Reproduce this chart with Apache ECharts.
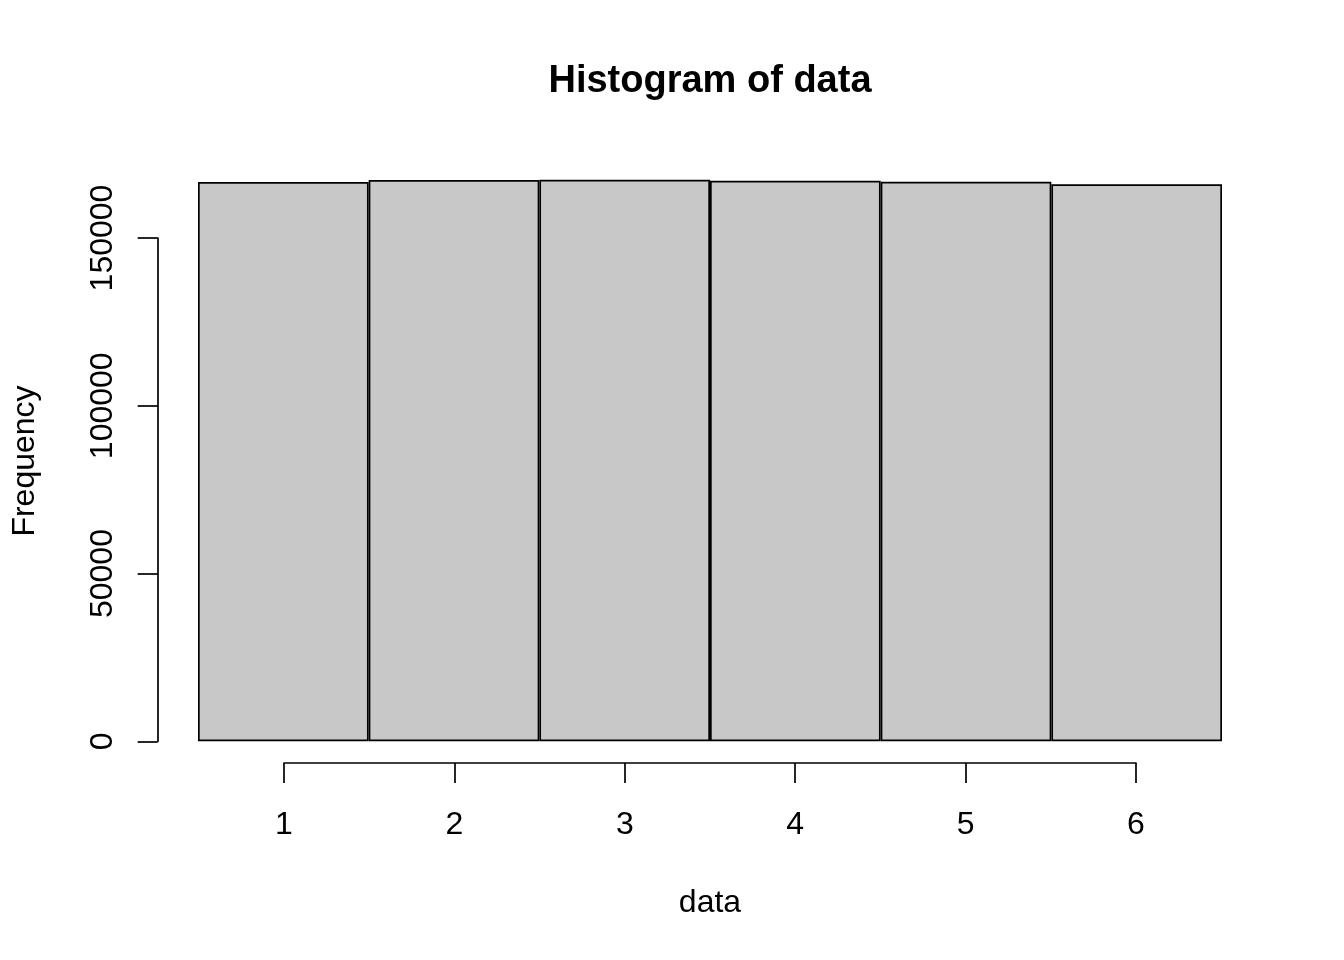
<!DOCTYPE html>
<html>
<head>
<meta charset="utf-8">
<script src="https://cdn.jsdelivr.net/npm/echarts@6/dist/echarts.min.js"></script>
<style>
html,body{margin:0;padding:0;background:#fff;}
#chart{width:1344px;height:960px;}
</style>
</head>
<body>
<div id="chart"></div>
<script>
// Data
const categories = ['1', '2', '3', '4', '5', '6'];
const frequencies = [166690, 167290, 167380, 167080, 166780, 166000];
const yTickMax = 150000;
const yTickInterval = 50000;
const xTickMin = 1, xTickMax = 6;
const titleText = 'Histogram of data';
const xName = 'data';
const yName = 'Frequency';

// Layout (pixels)
const plotLeft = 198, plotRight = 1222;
const yZero = 741.3, yTop = 238;
const barGridTop = 141.3;
const barMax = yTickMax * (yZero - barGridTop) / (yZero - yTop);
const font = 'Liberation Sans, Arial, Helvetica, sans-serif';
const lw = 1.7;

const chart = echarts.init(document.getElementById('chart'), null, {renderer: 'canvas'});
chart.setOption({
  backgroundColor: '#ffffff',
  animation: false,
  title: {
    text: titleText,
    left: 710, top: 63, textAlign: 'center', padding: 0,
    textStyle: {fontFamily: font, fontSize: 38, fontWeight: 'bold', color: '#000', lineHeight: 38}
  },
  grid: [
    {left: plotLeft, width: plotRight - plotLeft, top: barGridTop, height: yZero - barGridTop, containLabel: false},
    {left: 157.7, width: 1000, top: yTop, height: yZero - yTop, containLabel: false},
    {left: 284, width: 852, top: 700, height: 63, containLabel: false}
  ],
  xAxis: [
    {gridIndex: 0, type: 'category', data: categories, boundaryGap: true, show: false},
    {gridIndex: 1, type: 'value', show: false, min: 0, max: 1},
    {gridIndex: 2, type: 'value', min: xTickMin, max: xTickMax, interval: 1, position: 'bottom',
      axisLine: {show: true, lineStyle: {color: '#000', width: lw}},
      axisTick: {show: true, length: 20, lineStyle: {color: '#000', width: lw}},
      axisLabel: {show: true, margin: 46, color: '#000', fontFamily: font, fontSize: 32},
      splitLine: {show: false},
      name: xName, nameLocation: 'middle', nameGap: 124,
      nameTextStyle: {color: '#000', fontFamily: font, fontSize: 32}
    }
  ],
  yAxis: [
    {gridIndex: 0, type: 'value', min: 0, max: barMax, show: false, splitLine: {show: false}},
    {gridIndex: 1, type: 'value', min: 0, max: yTickMax, interval: yTickInterval, position: 'left',
      axisLine: {show: true, lineStyle: {color: '#000', width: lw}},
      axisTick: {show: true, length: 20, lineStyle: {color: '#000', width: lw}},
      axisLabel: {show: true, rotate: 90, margin: 39, color: '#000', fontFamily: font, fontSize: 32,
        formatter: function (v) { return String(v); }},
      splitLine: {show: false}
    },
    {gridIndex: 2, type: 'value', show: false}
  ],
  graphic: [
    {type: 'text', x: 25, y: 461, rotation: Math.PI / 2,
      style: {text: yName, fill: '#000', font: '32px ' + font, textAlign: 'center', textVerticalAlign: 'middle'}}
  ],
  series: [
    {type: 'bar', xAxisIndex: 0, yAxisIndex: 0, data: frequencies,
      barCategoryGap: '0%', barGap: '0%',
      itemStyle: {color: '#C8C8C8', borderColor: '#000', borderWidth: lw},
      emphasis: {disabled: true}, silent: true}
  ]
});
</script>
</body>
</html>
